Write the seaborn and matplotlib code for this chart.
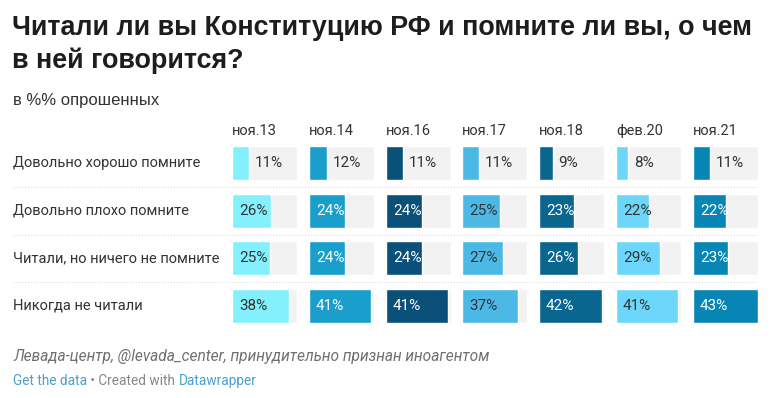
import seaborn as sns
import matplotlib.pyplot as plt

# данные опроса
answers = ["Довольно хорошо помните", "Довольно плохо помните",
           "Читали, но ничего не помните", "Никогда не читали"]
periods = ["ноя.13", "ноя.14", "ноя.16", "ноя.17", "ноя.18", "фев.20", "ноя.21"]
v_nov13 = [11, 26, 25, 38]
v_nov14 = [12, 24, 24, 41]
v_nov16 = [11, 24, 24, 41]
v_nov17 = [11, 25, 27, 37]
v_nov18 = [9, 23, 26, 42]
v_feb20 = [8, 22, 29, 41]
v_nov21 = [11, 22, 23, 43]
series = [v_nov13, v_nov14, v_nov16, v_nov17, v_nov18, v_feb20, v_nov21]

# цвета столбцов и подписей
bar_colors = ["#84effd", "#1a9fcc", "#0a5078", "#4cb8e6", "#08668f", "#6dd7fb", "#0786b5"]
dark_bar = [False, True, True, False, True, False, True]

sns.set_style("white")
plt.rcParams['font.family'] = ['Roboto', 'DejaVu Sans']

W, H = 771, 398
fig = plt.figure(figsize=(W / 100, H / 100), dpi=100)

def fx(px):
    return px / W

def fy(px):
    return 1 - px / H

# заголовок
head_font = ['Liberation Sans', 'DejaVu Sans']
fig.text(fx(12), fy(28), "Читали ли вы Конституцию РФ и помните ли вы, о чем",
         fontsize=19.4, fontweight="bold", color="#1d1d1d", va="center", family=head_font)
fig.text(fx(12), fy(61), "в ней говорится?",
         fontsize=19.4, fontweight="bold", color="#1d1d1d", va="center", family=head_font)
fig.text(fx(13), fy(101), "в %% опрошенных", fontsize=12, color="#333333",
         va="center", family=head_font)

max_val = max(max(s) for s in series)
col_x = [232, 309, 386, 462, 539, 616, 693]
cell_w = 65
top, bottom = 139.5, 329.5
row_h = (bottom - top) / len(answers)

for i, (name, vals) in enumerate(zip(periods, series)):
    ax = fig.add_axes([fx(col_x[i]), fy(bottom), cell_w / W, (bottom - top) / H])
    sns.barplot(x=[max_val] * len(answers), y=answers, orient="h", color="#f2f2f2",
                width=0.72, ax=ax, saturation=1)
    sns.barplot(x=vals, y=answers, orient="h", color=bar_colors[i],
                width=0.72, ax=ax, saturation=1)
    ax.set_xlim(0, max_val)
    ax.set_ylim(len(answers) - 0.5, -0.5)
    ax.axis("off")
    for j, v in enumerate(vals):
        if v >= 15:
            ax.annotate(f"{v}%", (0, j), xytext=(7, 0), textcoords="offset pixels",
                        va="center", ha="left", fontsize=11,
                        color="white" if dark_bar[i] else "#333333")
        else:
            ax.annotate(f"{v}%", (v, j), xytext=(6, 0), textcoords="offset pixels",
                        va="center", ha="left", fontsize=11, color="#333333")
    fig.text(fx(col_x[i]), fy(131), name, fontsize=10.5, color="#333333", va="center")

# подписи строк и пунктирные разделители
for j, a in enumerate(answers):
    yc = top + row_h * (j + 0.5)
    fig.text(fx(13), fy(yc), a, fontsize=10.5, color="#333333", va="center")
    if j > 0:
        yl = fy(top + row_h * j)
        fig.add_artist(plt.Line2D([fx(13), fx(757)], [yl, yl], color="#d4d4d4",
                                  linewidth=0.7, linestyle=(0, (1, 2))))

# подвал
fig.text(fx(13), fy(357), "Левада-центр, @levada_center, принудительно признан иноагентом",
         fontsize=11.2, style="italic", color="#707070", va="center")
renderer = fig.canvas.get_renderer()
x0 = 13
for txt, col in [("Get the data", "#4a9fcc"), (" • Created with ", "#888888"),
                 ("Datawrapper", "#4a9fcc")]:
    t = fig.text(fx(x0), fy(381), txt, fontsize=9.8, color=col, va="center")
    x0 += t.get_window_extent(renderer).width

fig.savefig("out.png", dpi=100)
